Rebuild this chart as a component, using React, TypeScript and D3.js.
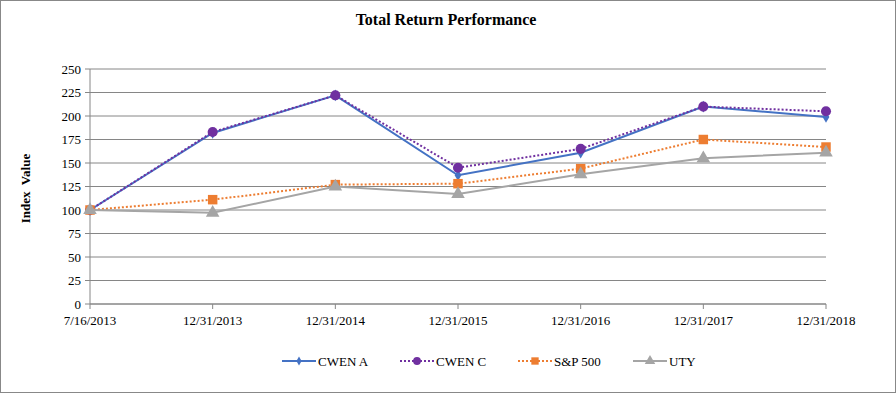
import * as d3 from "d3";

const categories = ["7/16/2013", "12/31/2013", "12/31/2014", "12/31/2015", "12/31/2016", "12/31/2017", "12/31/2018"];
const cwenA = [100, 182, 222, 137, 161, 210, 199];
const cwenC = [100, 183, 222, 145, 165, 210, 205];
const sp500 = [100, 111, 127, 128, 144, 175, 167];
const uty = [100, 97, 125, 117, 138, 155, 161];
const yTicks = [0, 25, 50, 75, 100, 125, 150, 175, 200, 225, 250];

const series = [
  { name: "CWEN A", values: cwenA, color: "#4472C4", dash: "", marker: "diamond" },
  { name: "CWEN C", values: cwenC, color: "#7030A0", dash: "2,2", marker: "circle" },
  { name: "S&P 500", values: sp500, color: "#ED7D31", dash: "2,2", marker: "square" },
  { name: "UTY", values: uty, color: "#A5A5A5", dash: "", marker: "triangle" },
];

const W = 896;
const H = 393;
const left = 90, right = 826, top = 69, bottom = 304;
const font = "Liberation Serif, Times New Roman, serif";

function markerPath(kind: string, size: number) {
  const sym =
    kind === "diamond" ? d3.symbolDiamond :
    kind === "circle" ? d3.symbolCircle :
    kind === "square" ? d3.symbolSquare : d3.symbolTriangle;
  return d3.symbol(sym, size)()!;
}

const markerSize: Record<string, number> = { diamond: 40, circle: 80, square: 90, triangle: 80 };

export default function App() {
  const x = d3.scalePoint<string>().domain(categories).range([left, right]);
  const y = d3.scaleLinear().domain([0, 250]).range([bottom, top]);
  const line = d3.line<number>()
    .x((_, i) => x(categories[i])!)
    .y((d) => y(d));

  const legendX = [282, 400, 518, 633];

  return (
    <svg width={W} height={H} style={{ position: "absolute", left: 0, top: 0 }}>
      <g fontFamily={font}>
        <rect x={0.5} y={0.5} width={W - 1} height={H - 1} fill="#fff" stroke="#888" />
        <text x={446} y={25} textAnchor="middle" fontSize={16} fontWeight="bold" fill="#000">
          Total Return Performance
        </text>
        <text transform={`translate(30,${(top + bottom) / 2 + 2}) rotate(-90)`} textAnchor="middle"
          fontSize={13} fontWeight="bold" fill="#000" style={{ whiteSpace: "pre" }}>
          Index  Value
        </text>
        {yTicks.map((t) => (
          <g key={t}>
            <line x1={left} x2={right} y1={y(t)} y2={y(t)} stroke="#868686" strokeWidth={1} />
            <line x1={left - 5} x2={left} y1={y(t)} y2={y(t)} stroke="#868686" />
            <text x={left - 9} y={y(t) + 4.5} textAnchor="end" fontSize={13} fill="#000">{t}</text>
          </g>
        ))}
        <line x1={left} x2={left} y1={top} y2={bottom} stroke="#868686" />
        <line x1={left} x2={right} y1={bottom} y2={bottom} stroke="#868686" />
        {categories.map((c) => (
          <g key={c}>
            <line x1={x(c)} x2={x(c)} y1={bottom} y2={bottom + 5} stroke="#868686" />
            <text x={x(c)} y={bottom + 21} textAnchor="middle" fontSize={13} fill="#000">{c}</text>
          </g>
        ))}
        {series.map((s) => (
          <g key={s.name}>
            <path d={line(s.values)!} fill="none" stroke={s.color} strokeWidth={2} strokeDasharray={s.dash} />
            {s.values.map((v, i) => (
              <path key={i} d={markerPath(s.marker, markerSize[s.marker])}
                transform={`translate(${x(categories[i])},${y(v)})`} fill={s.color} />
            ))}
          </g>
        ))}
        {series.map((s, i) => (
          <g key={s.name} transform={`translate(${legendX[i]},361)`}>
            <line x1={0} x2={34} y1={0} y2={0} stroke={s.color} strokeWidth={2} strokeDasharray={s.dash} />
            <path d={markerPath(s.marker, markerSize[s.marker] * 0.6)} transform="translate(17,0)" fill={s.color} />
            <text x={36} y={4.5} fontSize={13} fill="#000">{s.name}</text>
          </g>
        ))}
      </g>
    </svg>
  );
}
